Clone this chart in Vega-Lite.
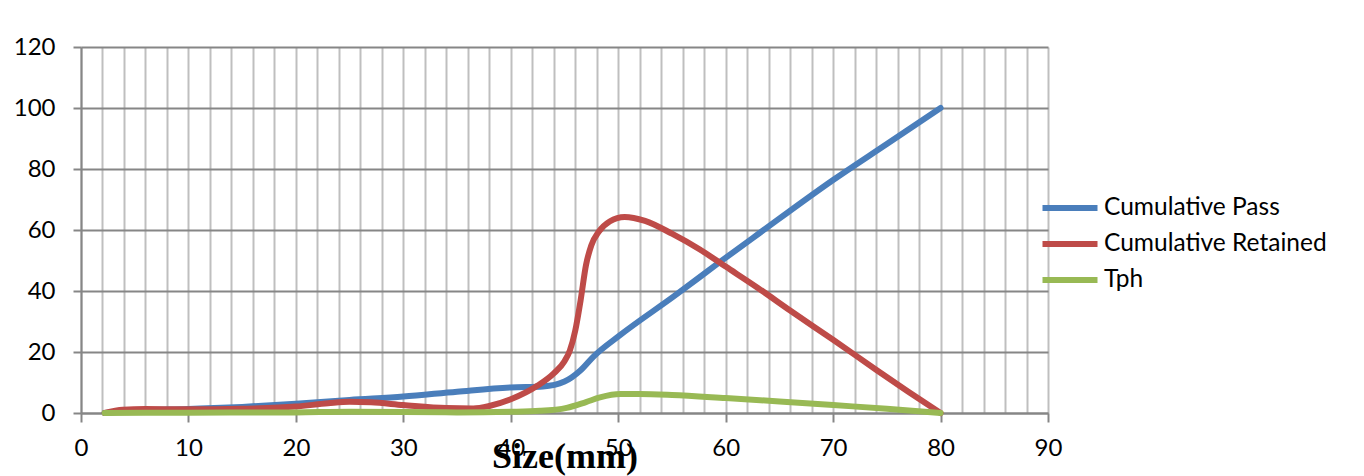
{
  "$schema": "https://vega.github.io/schema/vega-lite/v6.json",
  "autosize": {"type": "none"},
  "width": 967,
  "height": 366,
  "padding": {"left": 81, "top": 47, "right": 316, "bottom": 63},
  "background": "white",
  "data": {
    "values": [
      {"series": "Cumulative Pass", "size": 2.2, "value": 0},
      {"series": "Cumulative Pass", "size": 5, "value": 0.7},
      {"series": "Cumulative Pass", "size": 10, "value": 1.3},
      {"series": "Cumulative Pass", "size": 15, "value": 2.0},
      {"series": "Cumulative Pass", "size": 20, "value": 3.0},
      {"series": "Cumulative Pass", "size": 25, "value": 4.3},
      {"series": "Cumulative Pass", "size": 30, "value": 5.4},
      {"series": "Cumulative Pass", "size": 35, "value": 7.0},
      {"series": "Cumulative Pass", "size": 40, "value": 8.4},
      {"series": "Cumulative Pass", "size": 43, "value": 8.7},
      {"series": "Cumulative Pass", "size": 45, "value": 10.3},
      {"series": "Cumulative Pass", "size": 46.5, "value": 14},
      {"series": "Cumulative Pass", "size": 47.7, "value": 18.5},
      {"series": "Cumulative Pass", "size": 50.2, "value": 25.6},
      {"series": "Cumulative Pass", "size": 55.2, "value": 38.3},
      {"series": "Cumulative Pass", "size": 59.5, "value": 49.6},
      {"series": "Cumulative Pass", "size": 63, "value": 58.6},
      {"series": "Cumulative Pass", "size": 70, "value": 76.4},
      {"series": "Cumulative Pass", "size": 75, "value": 88.2},
      {"series": "Cumulative Pass", "size": 80, "value": 100},

      {"series": "Cumulative Retained", "size": 2.2, "value": 0},
      {"series": "Cumulative Retained", "size": 3.9, "value": 1.1},
      {"series": "Cumulative Retained", "size": 6, "value": 1.3},
      {"series": "Cumulative Retained", "size": 10, "value": 1.2},
      {"series": "Cumulative Retained", "size": 15, "value": 1.4},
      {"series": "Cumulative Retained", "size": 20, "value": 2.1},
      {"series": "Cumulative Retained", "size": 23, "value": 3.2},
      {"series": "Cumulative Retained", "size": 25, "value": 3.7},
      {"series": "Cumulative Retained", "size": 27, "value": 3.5},
      {"series": "Cumulative Retained", "size": 30, "value": 2.6},
      {"series": "Cumulative Retained", "size": 34, "value": 1.6},
      {"series": "Cumulative Retained", "size": 36.5, "value": 1.5},
      {"series": "Cumulative Retained", "size": 38, "value": 2.3},
      {"series": "Cumulative Retained", "size": 40, "value": 4.5},
      {"series": "Cumulative Retained", "size": 42.5, "value": 9},
      {"series": "Cumulative Retained", "size": 44, "value": 13},
      {"series": "Cumulative Retained", "size": 45, "value": 17},
      {"series": "Cumulative Retained", "size": 45.5, "value": 20.5},
      {"series": "Cumulative Retained", "size": 46, "value": 27},
      {"series": "Cumulative Retained", "size": 46.5, "value": 37},
      {"series": "Cumulative Retained", "size": 47, "value": 48.5},
      {"series": "Cumulative Retained", "size": 47.5, "value": 55},
      {"series": "Cumulative Retained", "size": 48.2, "value": 59.5},
      {"series": "Cumulative Retained", "size": 49.2, "value": 62.8},
      {"series": "Cumulative Retained", "size": 50.6, "value": 64.3},
      {"series": "Cumulative Retained", "size": 52.5, "value": 63},
      {"series": "Cumulative Retained", "size": 55, "value": 58.8},
      {"series": "Cumulative Retained", "size": 57.6, "value": 53.6},
      {"series": "Cumulative Retained", "size": 60, "value": 48},
      {"series": "Cumulative Retained", "size": 63, "value": 41},
      {"series": "Cumulative Retained", "size": 66, "value": 33.6},
      {"series": "Cumulative Retained", "size": 70, "value": 24},
      {"series": "Cumulative Retained", "size": 74, "value": 14.2},
      {"series": "Cumulative Retained", "size": 77, "value": 7},
      {"series": "Cumulative Retained", "size": 80, "value": 0},

      {"series": "Tph", "size": 2.2, "value": 0},
      {"series": "Tph", "size": 10, "value": 0.1},
      {"series": "Tph", "size": 20, "value": 0.2},
      {"series": "Tph", "size": 25, "value": 0.4},
      {"series": "Tph", "size": 30, "value": 0.3},
      {"series": "Tph", "size": 35, "value": 0.2},
      {"series": "Tph", "size": 40, "value": 0.4},
      {"series": "Tph", "size": 42.7, "value": 0.7},
      {"series": "Tph", "size": 45.2, "value": 1.7},
      {"series": "Tph", "size": 47, "value": 3.6},
      {"series": "Tph", "size": 48.3, "value": 5.1},
      {"series": "Tph", "size": 50.2, "value": 6.2},
      {"series": "Tph", "size": 52, "value": 6.2},
      {"series": "Tph", "size": 55, "value": 5.9},
      {"series": "Tph", "size": 60, "value": 4.9},
      {"series": "Tph", "size": 65, "value": 3.8},
      {"series": "Tph", "size": 70, "value": 2.6},
      {"series": "Tph", "size": 75, "value": 1.4},
      {"series": "Tph", "size": 80, "value": 0}
    ]
  },
  "mark": {"type": "line", "interpolate": "monotone", "strokeWidth": 6, "strokeCap": "round", "strokeJoin": "round"},
  "encoding": {
    "x": {
      "field": "size",
      "type": "quantitative",
      "scale": {"domain": [0, 90], "nice": false, "zero": false},
      "axis": {
        "title": "Size(mm)",
        "titleFont": "Liberation Serif",
        "titleFontSize": 36,
        "titleFontWeight": "bold",
        "titleColor": "black",
        "titleBaseline": "alphabetic",
        "titleY": 54,
        "values": [0, 2, 4, 6, 8, 10, 12, 14, 16, 18, 20, 22, 24, 26, 28, 30, 32, 34, 36, 38, 40, 42, 44, 46, 48, 50, 52, 54, 56, 58, 60, 62, 64, 66, 68, 70, 72, 74, 76, 78, 80, 82, 84, 86, 88, 90],
        "labelExpr": "datum.value % 10 === 0 ? datum.label : ''",
        "labelOverlap": false,
        "labelFont": "Lato",
        "labelFontSize": 24,
        "labelColor": "black",
        "labelPadding": 14,
        "labelFlush": false,
        "tickSize": 9,
        "tickWidth": 2,
        "tickColor": "#868686",
        "tickOpacity": {"condition": {"test": "datum.value % 10 === 0", "value": 1}, "value": 0},
        "domainColor": "#868686",
        "domainWidth": 2,
        "grid": true,
        "gridColor": "#BFBFBF",
        "gridWidth": 2
      }
    },
    "y": {
      "field": "value",
      "type": "quantitative",
      "scale": {"domain": [0, 120], "nice": false},
      "axis": {
        "title": null,
        "values": [0, 20, 40, 60, 80, 100, 120],
        "labelFont": "Lato",
        "labelFontSize": 24,
        "labelColor": "black",
        "labelPadding": 18,
        "labelFlush": false,
        "tickSize": 8,
        "tickWidth": 2,
        "tickColor": "#868686",
        "domainColor": "#868686",
        "domainWidth": 2,
        "grid": true,
        "gridColor": "#868686",
        "gridWidth": 2
      }
    },
    "color": {
      "field": "series",
      "type": "nominal",
      "scale": {
        "domain": ["Cumulative Pass", "Cumulative Retained", "Tph"],
        "range": ["#4A7EBB", "#BE4B48", "#98B954"]
      },
      "legend": {
        "title": null,
        "orient": "none",
        "legendX": 975,
        "legendY": 147,
        "symbolType": "M-2.5,0H2.5",
        "symbolSize": 484,
        "symbolStrokeWidth": 6,
        "labelFont": "Lato",
        "labelFontSize": 24.5,
        "labelColor": "black",
        "labelOffset": 20,
        "rowPadding": 10,
        "labelLimit": 300
      }
    }
  },
  "config": {"view": {"stroke": null}}
}
